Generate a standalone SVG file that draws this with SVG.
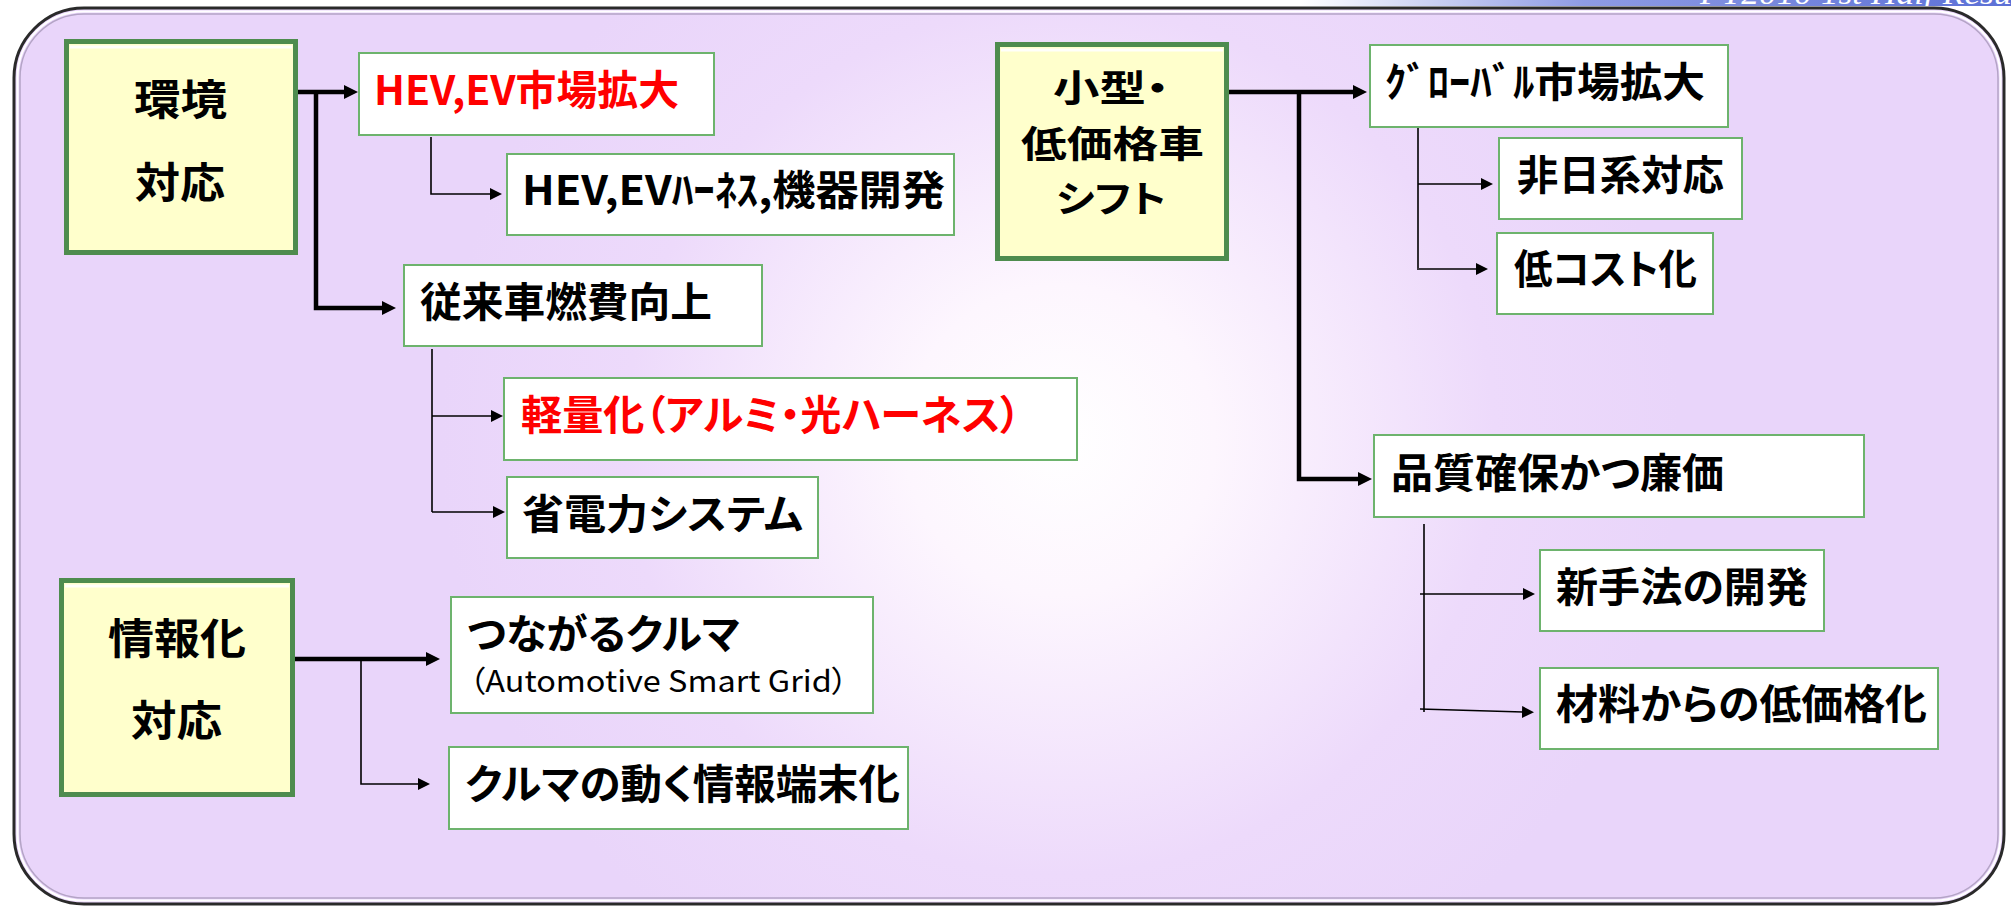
<svg xmlns="http://www.w3.org/2000/svg" width="2011" height="910" viewBox="0 0 2011 910">
<defs>
  <radialGradient id="bg" gradientUnits="userSpaceOnUse" cx="1060" cy="440" r="620">
    <stop offset="0" stop-color="#FFFFFF"/>
    <stop offset="0.25" stop-color="#FDF6FE"/>
    <stop offset="0.7" stop-color="#EDDAFB"/>
    <stop offset="1" stop-color="#E9D5FA"/>
  </radialGradient>
  <linearGradient id="strip" x1="0" y1="0" x2="1" y2="0">
    <stop offset="0" stop-color="#FFFFFF"/>
    <stop offset="0.4" stop-color="#8E9BE4"/>
    <stop offset="1" stop-color="#5C70D6"/>
  </linearGradient>
  <marker id="ahk" markerUnits="userSpaceOnUse" markerWidth="15" markerHeight="15" refX="1" refY="7" orient="auto">
    <path d="M0,0 L14,7 L0,14 z" fill="#000"/>
  </marker>
  <marker id="aht" markerUnits="userSpaceOnUse" markerWidth="13" markerHeight="13" refX="1" refY="6" orient="auto">
    <path d="M0,0 L12,6 L0,12 z" fill="#000"/>
  </marker>
</defs>
<style>
  .yb{fill:#FFFFCC;stroke:#4E8C4E;stroke-width:5}
  .hl{stroke:#FFFFFF;stroke-width:3;opacity:0.9}
  .wb{fill:#FFFFFF;stroke:#6DB36D;stroke-width:2}
  .t{font-family:"Noto Sans CJK JP","Noto Sans CJK SC",sans-serif;font-weight:bold;font-size:41px;fill:#000;font-feature-settings:"palt"}
  .ty{font-size:42px}
  .tk{font-size:37px}
  .red{fill:#FF0000}
  .sm{font-size:30px;font-weight:normal}
  .thick{stroke:#000;stroke-width:4.5;fill:none}
  .thin{stroke:#000;stroke-width:1.6;fill:none}
</style>
<rect x="0" y="0" width="2011" height="910" fill="#FFFFFF"/>
<g id="header">
  <rect x="1300" y="0" width="711" height="6" fill="url(#strip)"/>
  <text x="1700" y="4" font-family="Liberation Serif, serif" font-style="italic" font-size="32" fill="#FFFFFF" textLength="345" lengthAdjust="spacingAndGlyphs">FY2010 1st Half Results</text>
</g>
<g id="panel">
  <rect x="14" y="8" width="1990" height="896" rx="70" ry="70" fill="url(#bg)" stroke="#2A2A2A" stroke-width="3"/>
  <rect x="17.5" y="11.5" width="1983" height="889" rx="66" ry="66" fill="none" stroke="#FFFFFF" stroke-width="2"/>
  <rect x="20" y="14" width="1978" height="884" rx="64" ry="64" fill="none" stroke="#B4A4C6" stroke-width="1.5"/>
</g>
<g id="connectors">
  <path class="thick" d="M298,92 H345" marker-end="url(#ahk)"/>
  <path class="thick" d="M316,92 V308 H383" marker-end="url(#ahk)"/>
  <path class="thin" d="M431,137 V194 H491" marker-end="url(#aht)"/>
  <path class="thin" d="M432,349 V512"/>
  <path class="thin" d="M432,416 H492" marker-end="url(#aht)"/>
  <path class="thin" d="M432,512 H494" marker-end="url(#aht)"/>
  <path class="thick" d="M295,659 H427" marker-end="url(#ahk)"/>
  <path class="thin" d="M361,659 V784 H419" marker-end="url(#aht)"/>
  <path class="thick" d="M1229,92 H1354" marker-end="url(#ahk)"/>
  <path class="thick" d="M1299,94 V479 H1359" marker-end="url(#ahk)"/>
  <path class="thin" d="M1418,128 V268"/>
  <path class="thin" d="M1418,184 H1482" marker-end="url(#aht)"/>
  <path class="thin" d="M1417,269 H1477" marker-end="url(#aht)"/>
  <path class="thin" d="M1424,524 V712"/>
  <path class="thin" d="M1420,594 H1524" marker-end="url(#aht)"/>
  <path class="thin" d="M1420,709 L1523,712" marker-end="url(#aht)"/>
</g>
<g id="n-kankyo">
  <rect class="yb" x="66.5" y="41.5" width="229" height="211"/>
  <line class="hl" x1="70" y1="47" x2="292" y2="47"/>
  <text class="t ty"><tspan x="134" y="115" textLength="93" lengthAdjust="spacingAndGlyphs">環境</tspan><tspan x="135" y="198" textLength="90" lengthAdjust="spacingAndGlyphs">対応</tspan></text>
</g>
<g id="n-hev-market">
  <rect class="wb" x="359" y="53" width="355" height="82"/>
  <text class="t red" x="374" y="105" textLength="305" lengthAdjust="spacingAndGlyphs">HEV,EV市場拡大</text>
</g>
<g id="n-hev-harness">
  <rect class="wb" x="507" y="154" width="447" height="81"/>
  <text class="t" x="522" y="205" textLength="423" lengthAdjust="spacingAndGlyphs">HEV,EVﾊｰﾈｽ,機器開発</text>
</g>
<g id="n-juurai">
  <rect class="wb" x="404" y="265" width="358" height="81"/>
  <text class="t" x="420" y="317" textLength="292" lengthAdjust="spacingAndGlyphs">従来車燃費向上</text>
</g>
<g id="n-keiryou">
  <rect class="wb" x="504" y="378" width="573" height="82"/>
  <text class="t red" x="521" y="430" textLength="500" lengthAdjust="spacingAndGlyphs">軽量化（アルミ・光ハーネス）</text>
</g>
<g id="n-shoudenryoku">
  <rect class="wb" x="507" y="477" width="311" height="81"/>
  <text class="t" x="522" y="529" textLength="281" lengthAdjust="spacingAndGlyphs">省電力システム</text>
</g>
<g id="n-jouhou">
  <rect class="yb" x="61.5" y="580.5" width="231" height="214"/>
  <line class="hl" x1="65" y1="586" x2="289" y2="586"/>
  <text class="t ty"><tspan x="108" y="654" textLength="138" lengthAdjust="spacingAndGlyphs">情報化</tspan><tspan x="131" y="736" textLength="91" lengthAdjust="spacingAndGlyphs">対応</tspan></text>
</g>
<g id="n-tsunagaru">
  <rect class="wb" x="451" y="597" width="422" height="116"/>
  <text class="t" x="467" y="649" textLength="273" lengthAdjust="spacingAndGlyphs">つながるクルマ</text>
  <text class="t sm" x="469" y="692" textLength="379" lengthAdjust="spacingAndGlyphs">（Automotive Smart Grid）</text>
</g>
<g id="n-kuruma-terminal">
  <rect class="wb" x="449" y="747" width="459" height="82"/>
  <text class="t" x="465" y="799" textLength="435" lengthAdjust="spacingAndGlyphs">クルマの動く情報端末化</text>
</g>
<g id="n-kogata">
  <rect class="yb" x="997.5" y="44.5" width="229" height="214"/>
  <line class="hl" x1="1001" y1="50" x2="1223" y2="50"/>
  <text class="t tk"><tspan x="1053" y="102" textLength="116" lengthAdjust="spacingAndGlyphs">小型・</tspan><tspan x="1021" y="158" textLength="183" lengthAdjust="spacingAndGlyphs">低価格車</tspan><tspan x="1056" y="213" textLength="110" lengthAdjust="spacingAndGlyphs">シフト</tspan></text>
</g>
<g id="n-global">
  <rect class="wb" x="1370" y="45" width="358" height="82"/>
  <text class="t" x="1385" y="97" textLength="320" lengthAdjust="spacingAndGlyphs">ｸﾞﾛｰﾊﾞﾙ市場拡大</text>
</g>
<g id="n-hinikkei">
  <rect class="wb" x="1499" y="138" width="243" height="81"/>
  <text class="t" x="1517" y="190" textLength="207" lengthAdjust="spacingAndGlyphs">非日系対応</text>
</g>
<g id="n-lowcost">
  <rect class="wb" x="1497" y="233" width="216" height="81"/>
  <text class="t" x="1514" y="284" textLength="183" lengthAdjust="spacingAndGlyphs">低コスト化</text>
</g>
<g id="n-hinshitsu">
  <rect class="wb" x="1374" y="435" width="490" height="82"/>
  <text class="t" x="1391" y="488" textLength="333" lengthAdjust="spacingAndGlyphs">品質確保かつ廉価</text>
</g>
<g id="n-shinshuhou">
  <rect class="wb" x="1540" y="550" width="284" height="81"/>
  <text class="t" x="1556" y="602" textLength="252" lengthAdjust="spacingAndGlyphs">新手法の開発</text>
</g>
<g id="n-zairyou">
  <rect class="wb" x="1540" y="668" width="398" height="81"/>
  <text class="t" x="1556" y="719" textLength="371" lengthAdjust="spacingAndGlyphs">材料からの低価格化</text>
</g>
</svg>
